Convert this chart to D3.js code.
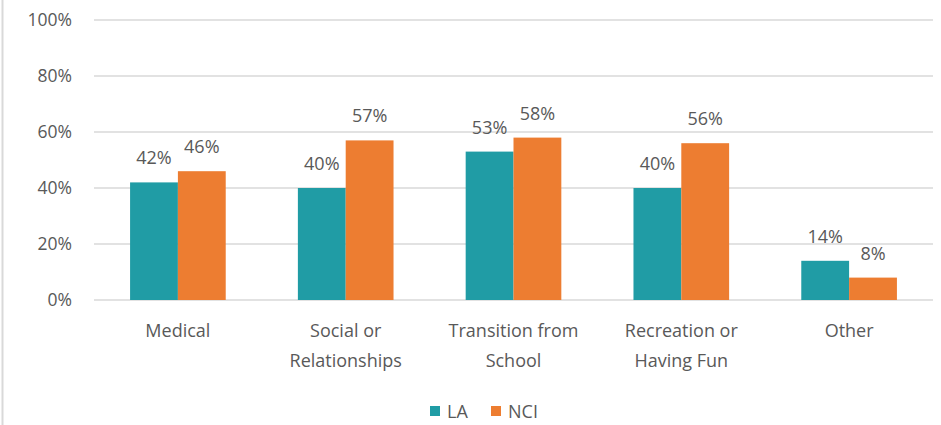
<!DOCTYPE html>
<html>
<head>
<meta charset="utf-8">
<script src="https://cdn.jsdelivr.net/npm/d3@7"></script>
<style>
  body { margin: 0; background: #fff; }
  svg text { font-family: "Open Sans", Lato, sans-serif; fill: #595959; }
</style>
</head>
<body>
<svg id="chart" width="941" height="425"></svg>
<script>
// chart data
var categories = [["Medical"], ["Social or", "Relationships"], ["Transition from", "School"], ["Recreation or", "Having Fun"], ["Other"]];
var seriesNames = ["LA", "NCI"];
var laValues = [42, 40, 53, 40, 14];
var nciValues = [46, 57, 58, 56, 8];
var yTicks = [0, 20, 40, 60, 80, 100];
var colors = ["#209ca5", "#ed7d31"];

(function () {
  var svg = d3.select("#chart");

  // left frame line
  svg.append("line").attr("x1", 2.5).attr("x2", 2.5).attr("y1", 0).attr("y2", 425)
    .attr("stroke", "#d9d9d9").attr("stroke-width", 2);

  var plotLeft = 94, plotRight = 933, plotTop = 20, plotBottom = 300;

  var x0 = d3.scaleBand()
    .domain(d3.range(categories.length))
    .range([plotLeft, plotRight])
    .paddingInner(0.43)
    .paddingOuter(0.215);

  var x1 = d3.scaleBand().domain(seriesNames).range([0, x0.bandwidth()]);

  var y = d3.scaleLinear().domain([0, 100]).range([plotBottom, plotTop]);

  // gridlines
  svg.append("g").selectAll("line").data(yTicks).enter().append("line")
    .attr("x1", plotLeft).attr("x2", plotRight)
    .attr("y1", function (d) { return y(d); })
    .attr("y2", function (d) { return y(d); })
    .attr("stroke", "#d9d9d9").attr("stroke-width", 1.5);

  // y labels
  svg.append("g").selectAll("text").data(yTicks).enter().append("text")
    .attr("x", 72).attr("y", function (d) { return y(d) + 6; })
    .attr("text-anchor", "end").attr("font-size", 17.5)
    .text(function (d) { return d + "%"; });

  var rows = categories.map(function (c, i) {
    return { i: i, vals: [laValues[i], nciValues[i]] };
  });

  var groups = svg.append("g").selectAll("g").data(rows).enter().append("g")
    .attr("transform", function (d) { return "translate(" + x0(d.i) + ",0)"; });

  groups.selectAll("rect").data(function (d) {
    return d.vals.map(function (v, k) { return { s: seriesNames[k], v: v, k: k }; });
  }).enter().append("rect")
    .attr("x", function (d) { return x1(d.s); })
    .attr("width", x1.bandwidth())
    .attr("y", function (d) { return y(d.v); })
    .attr("height", function (d) { return plotBottom - y(d.v); })
    .attr("fill", function (d) { return colors[d.k]; });

  groups.selectAll("text.lbl").data(function (d) {
    return d.vals.map(function (v, k) { return { s: seriesNames[k], v: v }; });
  }).enter().append("text")
    .attr("class", "lbl")
    .attr("x", function (d) { return x1(d.s) + x1.bandwidth() / 2; })
    .attr("y", function (d) { return y(d.v) - 18; })
    .attr("text-anchor", "middle").attr("font-size", 18)
    .text(function (d) { return d.v + "%"; });

  // category labels
  groups.append("text")
    .attr("text-anchor", "middle").attr("font-size", 18)
    .selectAll("tspan").data(function (d) { return categories[d.i]; }).enter().append("tspan")
    .attr("x", x0.bandwidth() / 2)
    .attr("y", function (d, j) { return 337 + j * 30; })
    .text(function (d) { return d; });

  // legend
  var legend = svg.append("g");
  var legX = [430, 491];
  seriesNames.forEach(function (s, k) {
    legend.append("rect").attr("x", legX[k]).attr("y", 406).attr("width", 10).attr("height", 10)
      .attr("fill", colors[k]);
    legend.append("text").attr("x", legX[k] + 17).attr("y", 418).attr("font-size", 18).text(s);
  });
})();
</script>
</body>
</html>
